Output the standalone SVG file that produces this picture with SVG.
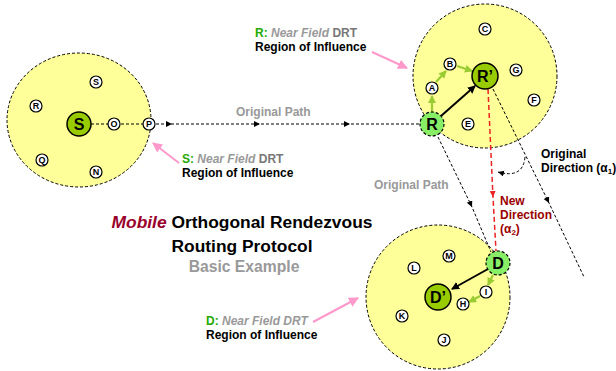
<svg xmlns="http://www.w3.org/2000/svg" width="616" height="371" viewBox="0 0 616 371">
<defs>
<style>
text{font-family:"Liberation Sans",Arial,sans-serif;font-weight:bold}
.region{fill:#ffff99;stroke:#000;stroke-width:1;stroke-dasharray:3,2}
.big{fill:#99cc00;stroke:#000;stroke-width:1.5}
.mob{fill:#88ee66;stroke:#000;stroke-width:1.2;stroke-dasharray:3,2}
.small{fill:#fff;stroke:#000;stroke-width:1.2}
.bl{font-size:16px;text-anchor:middle;fill:#000}
.sl{font-size:9px;text-anchor:middle;fill:#000}
.path{fill:none;stroke:#000;stroke-width:1;stroke-dasharray:3,2}
.red{fill:none;stroke:#ee2222;stroke-width:1.5;stroke-dasharray:5,3}
.grn{fill:none;stroke:#99cc33;stroke-width:2.2}
.blk{fill:none;stroke:#000;stroke-width:2}
.pink{fill:none;stroke:#ff99cc;stroke-width:2}
.lab{font-size:12px}
.gray{fill:#999}
</style>
<marker id="mid" markerWidth="8" markerHeight="8" refX="6" refY="3" orient="auto" markerUnits="userSpaceOnUse"><path d="M0,0 L6,3 L0,6 z" fill="#000"/></marker>
<marker id="midr" markerWidth="8" markerHeight="8" refX="6" refY="3" orient="auto" markerUnits="userSpaceOnUse"><path d="M0,0 L6,3 L0,6 z" fill="#ee2222"/></marker>
<marker id="ag" markerWidth="10" markerHeight="10" refX="7" refY="4" orient="auto" markerUnits="userSpaceOnUse"><path d="M0,0 L8,4 L0,8 z" fill="#99cc33"/></marker>
<marker id="ab" markerWidth="10" markerHeight="10" refX="7" refY="4" orient="auto" markerUnits="userSpaceOnUse"><path d="M0,0 L8,4 L0,8 z" fill="#000"/></marker>
<marker id="ap" markerWidth="12" markerHeight="12" refX="9" refY="5" orient="auto" markerUnits="userSpaceOnUse"><path d="M0,0 L10,5 L0,10 z" fill="#ff99cc"/></marker>
</defs>

<g id="regions">
<ellipse class="region" cx="79" cy="120" rx="72" ry="67"/>
<circle class="region" cx="485" cy="76" r="72"/>
<circle class="region" cx="438" cy="297" r="72"/>
</g>

<g id="connectors">
<path class="path" d="M91,124 L172,124 L260,124 L350,124 L420,124" marker-mid="url(#mid)"/>
<path class="path" d="M438,137 L472,207 L491,252" marker-mid="url(#mid)"/>
<path class="path" d="M493,89 L549,203 L584,277" marker-mid="url(#mid)"/>
<path class="red" d="M488,89 L493,197 L496,251" marker-mid="url(#midr)"/>
<path class="path" d="M525,157 Q523,179 498,172" marker-end="url(#mid)"/>
<path class="grn" d="M432,112 L432,96" marker-end="url(#ag)"/>
<path class="grn" d="M436,82 L446,71" marker-end="url(#ag)"/>
<path class="grn" d="M457,66 L472,71" marker-end="url(#ag)"/>
<path class="grn" d="M493,275 L488,285" marker-end="url(#ag)"/>
<path class="grn" d="M480,296 L469,302" marker-end="url(#ag)"/>
<path class="blk" d="M441,116 L475,86" marker-end="url(#ab)"/>
<path class="blk" d="M488,269 L452,289" marker-end="url(#ab)"/>
<path class="pink" d="M179,163 L153,143" marker-end="url(#ap)"/>
<path class="pink" d="M372,52 L407,68" marker-end="url(#ap)"/>
<path class="pink" d="M313,322 L358,298" marker-end="url(#ap)"/>
</g>

<g id="node-S"><circle class="big" cx="79" cy="124" r="12"/><text class="bl" x="79" y="130">S</text></g>
<g id="node-O"><circle class="small" cx="114" cy="124" r="6"/><text class="sl" x="114" y="127.3">O</text></g>
<g id="node-P"><circle class="small" cx="149" cy="124" r="6"/><text class="sl" x="149" y="127.3">P</text></g>
<g id="node-S2"><circle class="small" cx="96" cy="82" r="6"/><text class="sl" x="96" y="85.3">S</text></g>
<g id="node-R2"><circle class="small" cx="36" cy="106" r="6"/><text class="sl" x="36" y="109.3">R</text></g>
<g id="node-Q"><circle class="small" cx="42" cy="160" r="6"/><text class="sl" x="42" y="163.3">Q</text></g>
<g id="node-N"><circle class="small" cx="96" cy="172" r="6"/><text class="sl" x="96" y="175.3">N</text></g>

<g id="node-R"><circle class="mob" cx="432" cy="124" r="12"/><text class="bl" x="432" y="130">R</text></g>
<g id="node-Rp"><circle class="big" cx="485" cy="76" r="13"/><text class="bl" x="485" y="82">R’</text></g>
<g id="node-A"><circle class="small" cx="432" cy="88" r="6"/><text class="sl" x="432" y="91.3">A</text></g>
<g id="node-B"><circle class="small" cx="450" cy="64" r="6"/><text class="sl" x="450" y="67.3">B</text></g>
<g id="node-C"><circle class="small" cx="485" cy="29" r="6"/><text class="sl" x="485" y="32.3">C</text></g>
<g id="node-G"><circle class="small" cx="516" cy="70" r="6"/><text class="sl" x="516" y="73.3">G</text></g>
<g id="node-F"><circle class="small" cx="534" cy="100" r="6"/><text class="sl" x="534" y="103.3">F</text></g>
<g id="node-E"><circle class="small" cx="468" cy="124" r="6"/><text class="sl" x="468" y="127.3">E</text></g>

<g id="node-D"><circle class="mob" cx="498" cy="263" r="12"/><text class="bl" x="498" y="269">D</text></g>
<g id="node-Dp"><circle class="big" cx="438" cy="297" r="13"/><text class="bl" x="438" y="303">D’</text></g>
<g id="node-H"><circle class="small" cx="463" cy="304" r="6"/><text class="sl" x="463" y="307.3">H</text></g>
<g id="node-I"><circle class="small" cx="486" cy="292" r="6"/><text class="sl" x="486" y="295.3">I</text></g>
<g id="node-M"><circle class="small" cx="449" cy="256" r="6"/><text class="sl" x="449" y="259.3">M</text></g>
<g id="node-L"><circle class="small" cx="414" cy="268" r="6"/><text class="sl" x="414" y="271.3">L</text></g>
<g id="node-K"><circle class="small" cx="402" cy="316" r="6"/><text class="sl" x="402" y="319.3">K</text></g>
<g id="node-J"><circle class="small" cx="444" cy="340" r="6"/><text class="sl" x="444" y="343.3">J</text></g>

<g id="labels">
<text class="lab gray" x="236" y="116">Original Path</text>
<text class="lab gray" x="374" y="189">Original Path</text>
<text class="lab" x="182" y="163"><tspan fill="#22aa00">S:</tspan> <tspan fill="#999" font-style="italic">Near Field</tspan> <tspan fill="#777">DRT</tspan></text>
<text class="lab" x="182" y="177">Region of Influence</text>
<text class="lab" x="255" y="37"><tspan fill="#22aa00">R:</tspan> <tspan fill="#999" font-style="italic">Near Field</tspan> <tspan fill="#777">DRT</tspan></text>
<text class="lab" x="255" y="51">Region of Influence</text>
<text class="lab" x="206" y="325"><tspan fill="#22aa00">D:</tspan> <tspan fill="#999" font-style="italic">Near Field DRT</tspan></text>
<text class="lab" x="206" y="339">Region of Influence</text>
<text class="lab" x="541" y="158">Original</text>
<text class="lab" x="541" y="172">Direction (α<tspan font-size="8" dy="2">1</tspan><tspan dy="-2">)</tspan></text>
<text class="lab" fill="#990000" x="500" y="205">New</text>
<text class="lab" fill="#990000" x="500" y="219">Direction</text>
<text class="lab" fill="#990000" x="500" y="233">(α<tspan font-size="8" dy="2">2</tspan><tspan dy="-2">)</tspan></text>
<text x="242" y="228" font-size="17.4" text-anchor="middle"><tspan fill="#99002b" font-style="italic">Mobile</tspan> Orthogonal Rendezvous</text>
<text x="242" y="252" font-size="17.4" text-anchor="middle">Routing Protocol</text>
<text x="244" y="272" font-size="15.7" text-anchor="middle" fill="#999">Basic Example</text>
</g>
</svg>
